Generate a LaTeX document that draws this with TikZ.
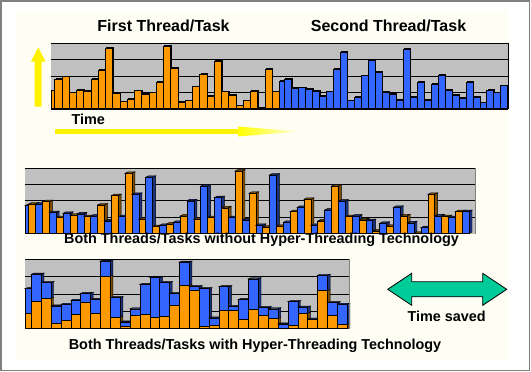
\documentclass[tikz,border=0pt]{standalone}
\usepackage{fontspec}
\setmainfont{Liberation Sans}
\begin{document}
\begin{tikzpicture}[x=1pt,y=-1pt]
\definecolor{org}{HTML}{FF9900}
\definecolor{blu}{HTML}{3366FF}
\definecolor{plotgray}{HTML}{C0C0C0}
\definecolor{panelc}{HTML}{FEFEF4}
\definecolor{arrowgreen}{HTML}{00CC99}
\definecolor{framegray}{HTML}{808080}
\tikzset{
  lbl/.style={font=\fontsize{14.4}{17}\selectfont\bfseries, inner sep=0pt, anchor=base, text=black},
  ttl/.style={font=\fontsize{16}{19}\selectfont\bfseries, inner sep=0pt, anchor=base, text=black},
  grid line/.style={black, line width=0.9},
  bar edge/.style={draw=black, line width=0.45},
}
\useasboundingbox (0,0) rectangle (531,372);
\fill[white] (0,0) rectangle (531,372);
\fill[panelc] (16,10) rectangle (508,360);
\draw[framegray, line width=1.6] (0.8,0.8) rectangle (529.5,370.6);

% ---------- top chart ----------
\fill[plotgray] (51,43.3) rectangle (508.3,109.3);
\foreach \y in {59.8,76.3,92.8} \draw[grid line] (51,\y) -- (508.3,\y);
\foreach \h [count=\i] in {1.13,1.84,1.98,1.01,1.15,1.09,1.82,2.36,3.72,0.97,0.46,0.62,1.13,0.93,1.01,1.65,3.85,2.48,0.44,0.52,1.37,2.12,0.82,2.93,1.07,0.87,0.22,0.52,1.11,0.06,2.44,1.07} {
  \pgfmathsetmacro\xa{max(51,54.7+(\i-2)*7.245)}
  \pgfmathsetmacro\xb{54.7+(\i-1)*7.245}
  \pgfmathsetmacro\yt{109.3-\h*16.5}
  \fill[black] (\xa+1,109.3) rectangle (\xb+1.3,\yt-1.1);
  \filldraw[fill=org, bar edge] (\xa,109.3) rectangle (\xb,\yt);
}
\foreach \h [count=\i] in {1.73,1.84,1.27,1.31,1.23,1.11,0.82,1.07,2.42,3.45,0.52,0.76,2.04,2.95,2.24,1.03,0.91,0.56,3.64,0.76,1.64,0.56,1.52,2.08,1.17,0.87,0.70,1.67,0.73,0.40,1.17,1.01,1.43} {
  \pgfmathsetmacro\xa{max(279.3,284.3+(\i-2)*6.98)}
  \pgfmathsetmacro\xb{284.3+(\i-1)*6.98}
  \pgfmathsetmacro\yt{109.3-\h*16.5}
  \fill[black] (\xa+1,109.3) rectangle (\xb+1.3,\yt-1.1);
  \filldraw[fill=blu, bar edge] (\xa,109.3) rectangle (\xb,\yt);
}
\draw[black, line width=1.4] (51,43.3) -- (508.3,43.3);
\draw[black, line width=1.2] (508.3,43.3) -- (508.3,109.3);
\draw[black, line width=2] (51,109.3) -- (508.3,109.3);

% yellow arrows
\fill[yellow] (34.7,106.7) -- (34.7,61.7) -- (31,61.7) -- (38.2,47.3) -- (45.7,61.7) -- (41.7,61.7) -- (41.7,106.7) -- cycle;
\fill[yellow] (55,129) rectangle (240,134);
\shade[left color=yellow, right color=yellow!12!white] (238,126.5) -- (300,131.5) -- (238,136.5) -- cycle;

% ---------- middle chart ----------
\fill[plotgray] (25,168.3) rectangle (475,233.5);
\foreach \y in {184.6,200.9,217.2} \draw[grid line] (25,\y) -- (475,\y);
\foreach \h/\c [count=\i] in {1.71/blu,1.81/org,1.81/blu,1.95/org,1.28/blu,0.97/org,1.24/blu,1.12/org,1.20/blu,1.03/org,1.07/blu,1.75/org,0.77/blu,2.32/org,1.03/blu,3.69/org,2.40/blu,0.87/org,3.45/blu,0.42/org,0.50/blu,0.58/org,0.69/blu,1.07/org,2.01/blu,0.87/org,2.91/blu,0.97/org,2.20/blu,1.58/org,0.97/blu,3.83/org,0.83/blu,2.47/org,0.50/blu,0.40/org,3.59/blu,0.46/org,0.69/blu,1.34/org,1.61/blu,2.10/org,0.50/blu,0.77/org,1.44/blu,2.91/org,1.99/blu,1.03/org,1.07/blu,0.83/org,0.79/blu,0.17/org,0.63/blu,0.46/org,1.61/blu,1.09/org,0.66/blu,0.03/org,0.36/blu,2.40/org,1.09/blu,1.03/org,0.97/blu,1.34/org,1.34/blu} {
  \pgfmathsetmacro\xa{max(25,28.7+(\i-2)*6.88)}
  \pgfmathsetmacro\xb{28.7+(\i-1)*6.88}
  \pgfmathsetmacro\yt{233.5-\h*16.3}
  \filldraw[fill=\c!50!black, bar edge] (\xb,233.5) -- (\xb+3,232) -- (\xb+3,\yt-1.5) -- (\xb,\yt) -- cycle;
  \filldraw[fill=\c!50!black, bar edge] (\xa,\yt) -- (\xa+3,\yt-1.5) -- (\xb+3,\yt-1.5) -- (\xb,\yt) -- cycle;
  \filldraw[fill=\c, bar edge] (\xa,233.5) rectangle (\xb,\yt);
}
\draw[black, line width=1.2] (25,168.3) -- (475,168.3);
\draw[framegray, line width=1] (475,168.3) -- (475,233.5);

% ---------- bottom chart ----------
\fill[plotgray] (25,259.3) rectangle (349,328.7);
\foreach \y in {276.7,294,311.4} \draw[grid line] (25,\y) -- (349,\y);
\foreach \t/\o [count=\i] in {2.31/0.89,3.14/1.60,2.65/1.75,1.31/0.31,1.41/0.48,1.64/0.83,2.04/1.54,1.69/0.92,3.90/3.04,1.79/0.67,0.39/0.16,1.15/0.77,2.56/0.83,2.94/0.67,2.65/0.73,2.02/1.35,3.84/2.50,2.42/2.21,2.31/0.16,0.63/0.21,2.42/1.06,1.27/1.06,1.69/0.54,2.88/1.12,1.21/0.77,1.15/0.60,0.28/0.00,1.56/0.20,1.25/0.89,0.56/0.54,3.08/2.21,1.50/0.77,1.41/0.25} {
  \pgfmathsetmacro\xa{max(25,31.3+(\i-2)*9.87)}
  \pgfmathsetmacro\xb{31.3+(\i-1)*9.87}
  \pgfmathsetmacro\yo{328.7-\o*17.35}
  \pgfmathsetmacro\yt{328.7-\t*17.35}
  \filldraw[fill=org!50!black, bar edge] (\xb,328.7) -- (\xb+2.7,327.7) -- (\xb+2.7,\yo-1) -- (\xb,\yo) -- cycle;
  \filldraw[fill=blu!50!black, bar edge] (\xb,\yo) -- (\xb+2.7,\yo-1) -- (\xb+2.7,\yt-1) -- (\xb,\yt) -- cycle;
  \filldraw[fill=blu!50!black, bar edge] (\xa,\yt) -- (\xa+2.7,\yt-1) -- (\xb+2.7,\yt-1) -- (\xb,\yt) -- cycle;
  \filldraw[fill=org, bar edge] (\xa,328.7) rectangle (\xb,\yo);
  \filldraw[fill=blu, bar edge] (\xa,\yo) rectangle (\xb,\yt);
}
\draw[black, line width=1.2] (25,259.3) -- (349,259.3);
\draw[framegray, line width=1] (349,259.3) -- (349,328.7);

% green double arrow
\filldraw[fill=arrowgreen, draw=black, line width=0.8] (387.7,289.3) -- (411.7,273.3) -- (411.7,281.8) -- (482.7,281.8) -- (482.7,273.3) -- (506.7,289.3) -- (482.7,305.3) -- (482.7,296.8) -- (411.7,296.8) -- (411.7,305.3) -- cycle;

% labels
\node[ttl] (first) at (163.5,31.7) {First Thread/Task};
\node[ttl] (second) at (388.5,31.7) {Second Thread/Task};
\node[lbl] (time) at (88.3,124.3) {Time};
\node[lbl] (without) at (261.5,243.4) {Both Threads/Tasks without Hyper-Threading Technology};
\node[lbl] (with) at (255,349) {Both Threads/Tasks with Hyper-Threading Technology};
\node[lbl] (saved) at (446.7,321) {Time saved};
\end{tikzpicture}
\end{document}
